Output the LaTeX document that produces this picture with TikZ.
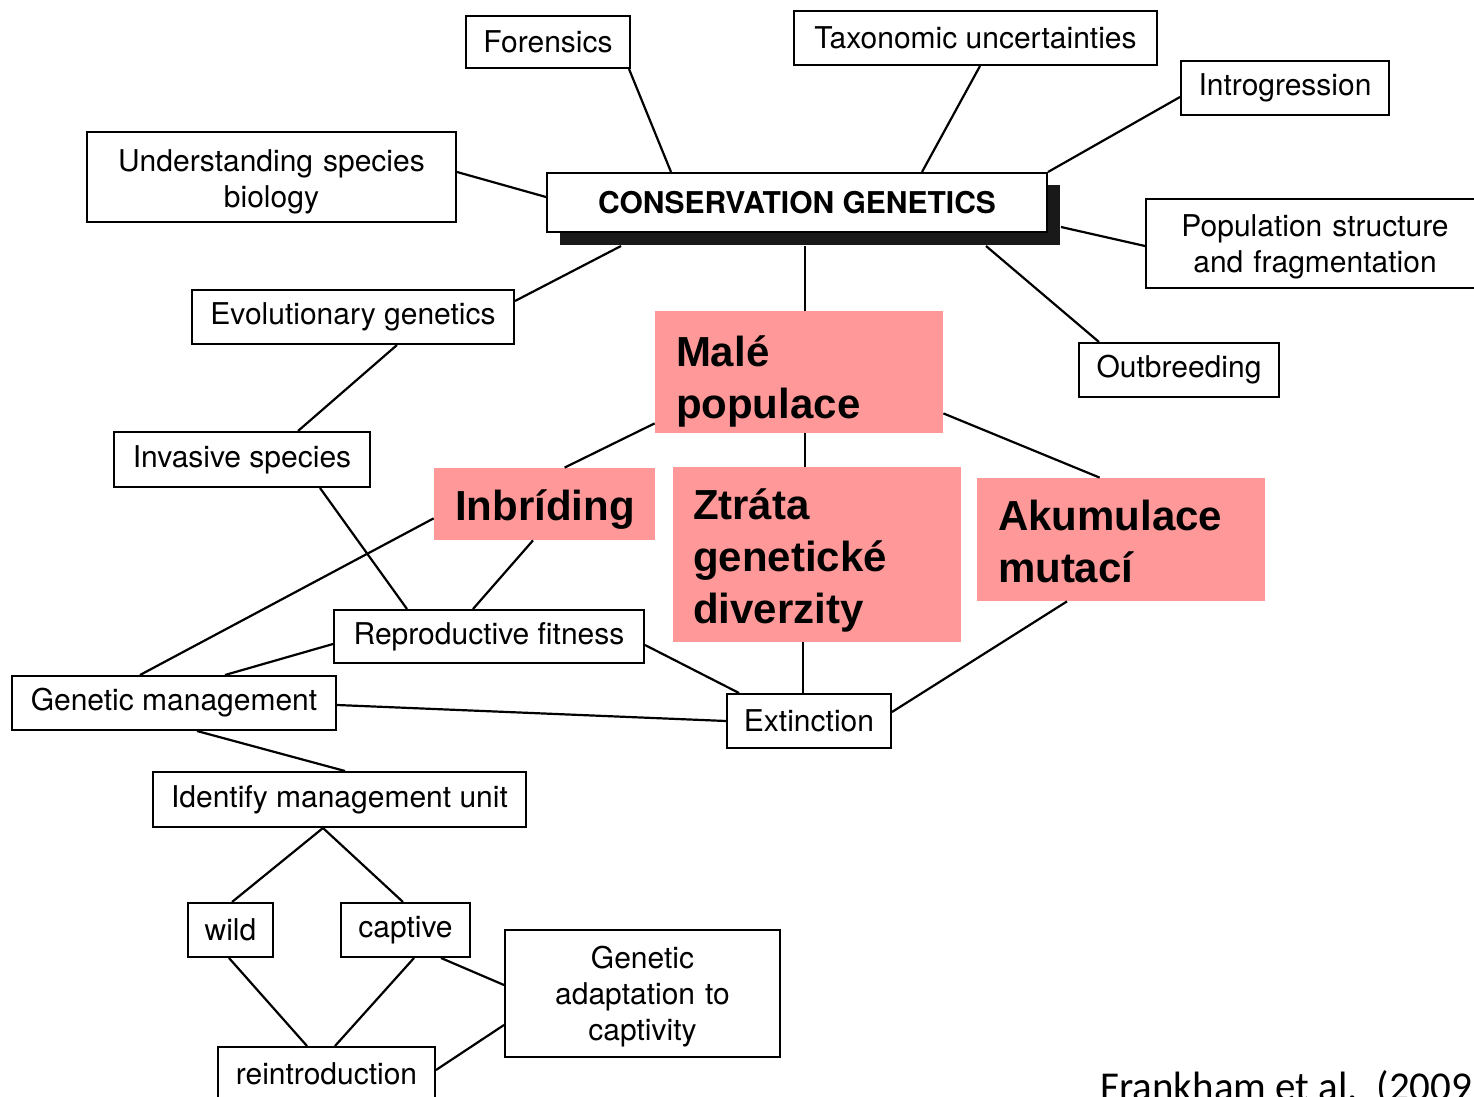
\documentclass[tikz,border=0pt]{standalone}
\usepackage{fontspec}
\setmainfont{TeX Gyre Heros}
\newfontfamily\pinkfont{Liberation Sans}
\newfontfamily\citefont{Carlito}
\usetikzlibrary{shadows}
\definecolor{mypink}{RGB}{255,153,153}

\tikzset{
  topic/.style={draw, line width=1pt, fill=white, align=center, inner sep=0pt,
    font=\fontsize{15}{18}\selectfont},
  hot/.style={fill=mypink, align=left, inner xsep=10.5pt, inner ysep=0pt,
    font=\pinkfont\bfseries\fontsize{21}{26}\selectfont},
  link/.style={line width=1.1pt},
}

\begin{document}
\begin{tikzpicture}[x=0.5pt,y=-0.5pt]
    \useasboundingbox (0,0) rectangle (1474,1097);

    % Hlavni uzel
    \node[topic, minimum width=250pt, minimum height=29.5pt,
      font=\bfseries\fontsize{15}{18}\selectfont,
      drop shadow={shadow xshift=6.5pt, shadow yshift=-6.25pt, fill=black!90, opacity=1}]
      (cg) at (797,202.5) {CONSERVATION GENETICS};

    % Horni rada temat
    \node[topic, minimum width=82pt, minimum height=26pt] (fore) at (548,42) {Forensics};
    \node[topic, minimum width=181.5pt, minimum height=27pt] (taxo) at (975.5,38) {Taxonomic uncertainties};
    \node[topic, minimum width=104pt, minimum height=27pt] (intro) at (1285,88) {Introgression};
    \node[topic, text width=184.5pt, minimum height=45pt, text height=15.2pt, text depth=21.2pt]
      (under) at (271.5,177) {Understanding species\\biology};
    \node[topic, text width=169pt, minimum height=44.5pt, text height=13.7pt, text depth=21.2pt]
      (pop) at (1315,243.5) {Population structure\\and fragmentation};
    \node[topic, minimum width=161pt, minimum height=27pt] (evo) at (353,317) {Evolutionary genetics};
    \node[topic, minimum width=100pt, minimum height=27pt] (outb) at (1179,370) {Outbreeding};
    \node[topic, minimum width=128pt, minimum height=27.5pt] (inv) at (242,459.5) {Invasive species};

    % Zvyraznene uzly
    \node[hot, text width=123pt, minimum height=61pt, text height=24.4pt, text depth=30.4pt]
      (male) at (799,372) {Malé\\populace};
    \node[hot, text width=89.5pt, align=center, minimum height=36pt, text height=20.5pt, text depth=4.5pt]
      (inb) at (544.5,504) {Inbríding};
    \node[hot, inner xsep=10pt, text width=124pt, minimum height=87.5pt, text height=20.5pt, text depth=56pt]
      (ztr) at (817,554.5) {Ztráta\\genetické\\diverzity};
    \node[hot, text width=123pt, minimum height=61.5pt, text height=16.5pt, text depth=26pt]
      (aku) at (1121,539.5) {Akumulace\\mutací};

    % Spodni cast
    \node[topic, minimum width=155pt, minimum height=26.5pt] (repr) at (489,636.5) {Reproductive fitness};
    \node[topic, minimum width=162pt, minimum height=27pt] (gen) at (174,703) {Genetic management};
    \node[topic, minimum width=82pt, minimum height=27pt] (ext) at (809,721) {Extinction};
    \node[topic, minimum width=186.5pt, minimum height=27.5pt] (iden) at (339.5,799.5) {Identify management unit};
    \node[topic, minimum width=42.5pt, minimum height=27pt] (wild) at (230.5,930) {wild};
    \node[topic, minimum width=64.5pt, minimum height=27pt] (capt) at (405.5,930) {captive};
    \node[topic, text width=137.5pt, minimum height=63.5pt, text height=13.7pt, text depth=39.2pt]
      (adapt) at (642.5,993.5) {Genetic\\adaptation to\\captivity};
    \node[topic, minimum width=108.5pt, minimum height=27pt] (rein) at (326.5,1074) {reintroduction};

    % Citace
    \node[anchor=base west, inner sep=0pt, font=\citefont\fontsize{20.5}{24}\selectfont]
      (cite) at (1100,1100) {Frankham et al.\ \ (2009)};

    % Spojnice kolem hlavniho uzlu
    \draw[link] ([xshift=-1pt]fore.south east) -- ([xshift=62.5pt]cg.north west);
    \draw[link] ([xshift=2.25pt]taxo.south) -- ([xshift=188pt]cg.north west);
    \draw[link] ([yshift=-4.5pt]intro.west) -- (cg.north east);
    \draw[link] ([yshift=2.5pt]under.east) -- ([yshift=2.75pt]cg.west);
    \draw[link] ([yshift=-1.25pt]pop.west) -- ([shift={(6.5pt,-12.25pt)}]cg.east);
    \draw[link] ([xshift=10.5pt]outb.north west) -- ([shift={(-31pt,-6.5pt)}]cg.south east);
    \draw[link] ([yshift=-6pt]evo.north east) -- ([shift={(37.5pt,-6.5pt)}]cg.south west);
    \draw[link] ([xshift=22pt]evo.south) -- ([xshift=28pt]inv.north);
    \draw[link] ([shift={(4pt,-6.5pt)}]cg.south) -- ([xshift=3pt]male.north);

    % Spojnice mezi zvyraznenymi uzly
    \draw[link] ([yshift=5pt]male.south west) -- ([xshift=65.5pt]inb.north west);
    \draw[link] ([xshift=3pt]male.south) -- ([xshift=-6pt]ztr.north);
    \draw[link] ([yshift=10pt]male.south east) -- ([xshift=61.5pt]aku.north west);
    \draw[link] ([xshift=-7pt]ztr.south) -- ([xshift=-3pt]ext.north);
    \draw[link] ([xshift=-27pt]aku.south) -- ([yshift=4.5pt]ext.east);

    % Spojnice ve spodni casti
    \draw[link] ([yshift=-4.25pt]repr.east) -- ([xshift=6.5pt]ext.north west);
    \draw[link] ([yshift=-1pt]gen.east) -- (ext.west);
    \draw[link] ([xshift=-17pt]gen.north) -- ([yshift=11pt]inb.south west);
    \draw[link] ([xshift=39pt]inv.south) -- ([xshift=37pt]repr.north west);
    \draw[link] ([xshift=-5.75pt]inb.south) -- ([xshift=-8pt]repr.north);
    \draw[link] ([yshift=-3.75pt]repr.west) -- ([xshift=25.5pt]gen.north);
    \draw[link] ([xshift=11.5pt]gen.south) -- ([xshift=2.75pt]iden.north);
    \draw[link] ([xshift=-8.25pt]iden.south) -- ([xshift=0.75pt]wild.north);
    \draw[link] ([xshift=-8.25pt]iden.south) -- ([xshift=-1.25pt]capt.north);
    \draw[link] ([xshift=-0.75pt]wild.south) -- ([xshift=-9.75pt]rein.north);
    \draw[link] ([xshift=4.25pt]capt.south) -- ([xshift=4.25pt]rein.north);
    \draw[link] ([xshift=-15pt]capt.south east) -- ([yshift=4.25pt]adapt.west);
    \draw[link] ([yshift=2pt]rein.east) -- ([yshift=-15.75pt]adapt.west);
\end{tikzpicture}
\end{document}
